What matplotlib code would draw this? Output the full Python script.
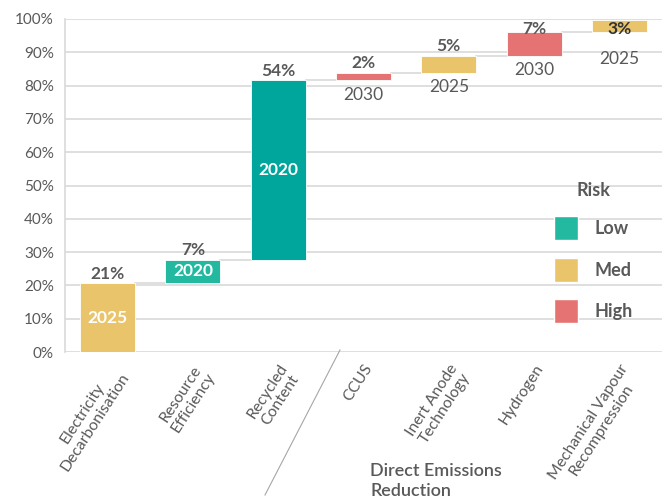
import numpy as np
import matplotlib.pyplot as plt
from matplotlib.patches import Patch
from matplotlib.lines import Line2D

plt.rcParams['font.family'] = ['Lato', 'DejaVu Sans']

# data
categories = ["Electricity\nDecarbonisation", "Resource\nEfficiency", "Recycled\nContent",
              "CCUS", "Inert Anode\nTechnology", "Hydrogen", "Mechanical Vapour\nRecompression"]
values = [20.7, 7.0, 54.0, 2.2, 5.1, 7.1, 3.6]
pct_labels = ["21%", "7%", "54%", "2%", "5%", "7%", "3%"]
years = ["2025", "2020", "2020", "2030", "2025", "2030", "2025"]
risk = ["Med", "Low", "Low2", "High", "Med", "High", "Med"]

colors = {"Low": "#22B9A0", "Low2": "#00A69C", "Med": "#E9C46A", "High": "#E57373"}
grey = "#595959"

fig = plt.figure(figsize=(6.66, 5.0), dpi=100)
ax = fig.add_axes([0.0976, 0.296, 0.8964, 0.666])

x = np.arange(len(values))
tops = np.cumsum(values)
bottoms = tops - np.array(values)
width = 0.645

ax.bar(x, values, bottom=bottoms, width=width,
       color=[colors[r] for r in risk], zorder=3, edgecolor="white", linewidth=0.6)

# connector lines between bars
for i in range(len(values) - 1):
    ax.plot([x[i] + width / 2, x[i + 1] - width / 2], [tops[i], tops[i]],
            color="#D9D9D9", lw=1.2, zorder=2)

for i in range(len(values)):
    ty = min(tops[i] + 2.8, 97.0)
    ax.text(x[i], ty, pct_labels[i], ha="center", va="center", fontsize=12.5,
            fontweight="bold", color="#333333" if i == 6 else grey, zorder=4)
    if i < 3:
        ax.text(x[i], (tops[i] + bottoms[i]) / 2, years[i], ha="center", va="center",
                fontsize=12.5, fontweight="bold", color="white", zorder=4)
    else:
        yy = min(bottoms[i] - 4.4, ty - 9.0)
        ax.text(x[i], yy, years[i], ha="center", va="center",
                fontsize=12.5, color=grey, zorder=4)

ax.set_xlim(-0.5, 6.5)
ax.set_ylim(0, 100)
ax.set_yticks(np.arange(0, 101, 10))
ax.set_yticklabels([f"{v}%" for v in range(0, 101, 10)], fontsize=11, color=grey)
ax.yaxis.grid(True, color="#D9D9D9", lw=1.2, zorder=0)
ax.tick_params(axis="both", length=0)
ax.tick_params(axis="y", pad=8)
for s in ["top", "right", "bottom"]:
    ax.spines[s].set_visible(False)
ax.spines["left"].set_color("#D9D9D9")
ax.spines["left"].set_linewidth(1.2)

ax.set_xticks(x)
ax.set_xticklabels(categories, rotation=57, ha="right", va="top", multialignment="center",
                   rotation_mode="anchor", fontsize=11.3, color=grey, linespacing=1.15)
ax.tick_params(axis="x", pad=7)

# divider line and group label
fig.add_artist(Line2D([340 / 666, 265 / 666], [1 - 350 / 500, 1 - 495 / 500],
                      color="#A6A6A6", lw=0.8))
fig.text(370 / 666, 1 - 481 / 500, "Direct Emissions\nReduction", ha="left", va="center",
         fontsize=13, color=grey, linespacing=1.25, fontweight="semibold")

handles = [Patch(facecolor=colors[k], edgecolor="white") for k in ["Low", "Med", "High"]]
leg = ax.legend(handles, ["Low", "Med", "High"], title="Risk", loc="upper left",
                bbox_to_anchor=(0.792, 0.56), frameon=False, fontsize=13,
                title_fontsize=13, handlelength=1.35, handleheight=1.65,
                labelspacing=0.98, handletextpad=0.9)
for t in leg.get_texts():
    t.set_color(grey)
    t.set_fontweight("bold")
leg.get_title().set_color(grey)
leg.get_title().set_fontweight("bold")
leg._legend_box.align = "center"

fig.savefig("out.png", dpi=100, facecolor="white")
